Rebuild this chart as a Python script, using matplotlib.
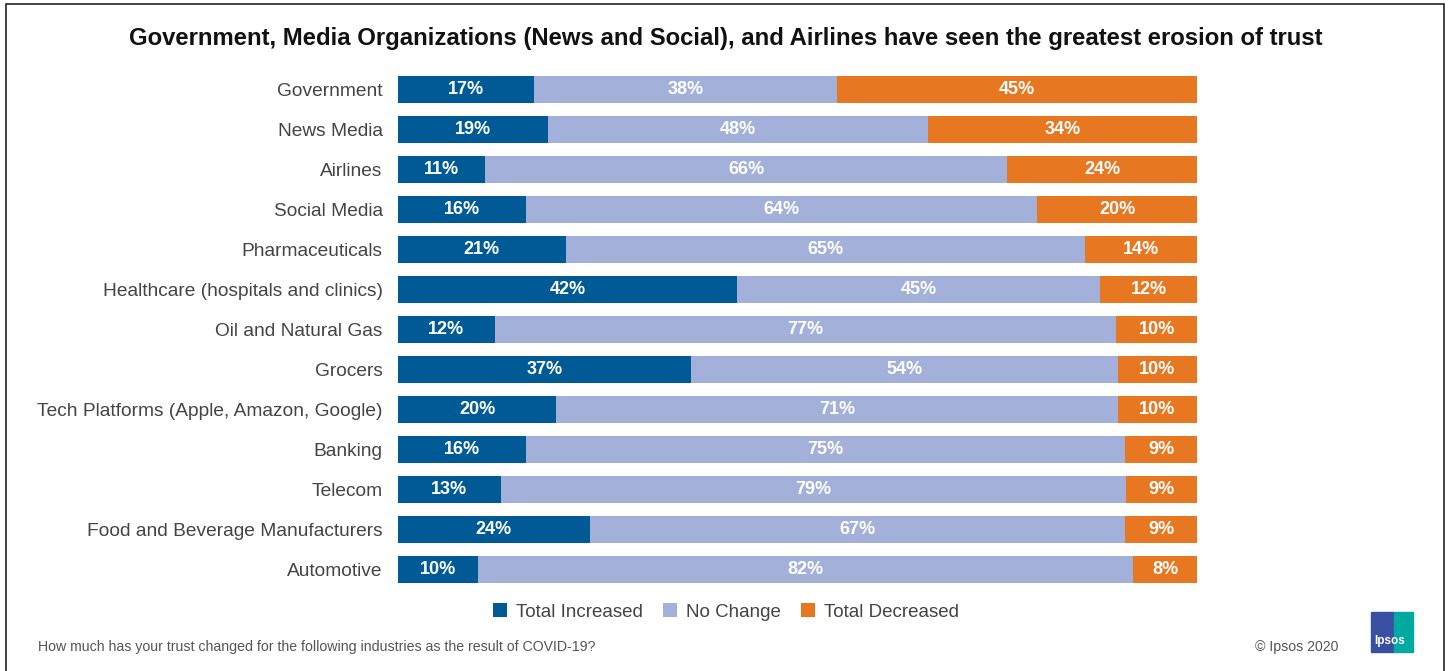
import numpy as np
import matplotlib.pyplot as plt
from matplotlib.patches import Rectangle

industries = [
    "Government", "News Media", "Airlines", "Social Media", "Pharmaceuticals",
    "Healthcare (hospitals and clinics)", "Oil and Natural Gas", "Grocers",
    "Tech Platforms (Apple, Amazon, Google)", "Banking", "Telecom",
    "Food and Beverage Manufacturers", "Automotive",
]
increased = [17, 19, 11, 16, 21, 42, 12, 37, 20, 16, 13, 24, 10]
no_change = [38, 48, 66, 64, 65, 45, 77, 54, 71, 75, 79, 67, 82]
decreased = [45, 34, 24, 20, 14, 12, 10, 10, 10, 9, 9, 9, 8]

series = [("Total Increased", increased, "#005a96"),
          ("No Change", no_change, "#a3b1da"),
          ("Total Decreased", decreased, "#e87722")]

plt.rcParams['font.family'] = ['Liberation Sans', 'DejaVu Sans']

W, H = 1449, 671
fig = plt.figure(figsize=(W / 100, H / 100), dpi=100)

# frame around the whole slide
fig.patches.append(Rectangle((6 / W, -0.05), (1444 - 6) / W, 1.05 - 4 / H,
                             transform=fig.transFigure, fill=False,
                             edgecolor="#222222", linewidth=1.2))

ax = fig.add_axes([398 / W, 1 - 589 / H, (1197 - 398) / W, 520 / H])

vals = np.array([increased, no_change, decreased], dtype=float)
totals = vals.sum(axis=0)
shares = vals / totals * 100  # each row spans the full bar
y = np.arange(len(industries))
left = np.zeros(len(industries))
for (name, raw, color), share in zip(series, shares):
    ax.barh(y, share, left=left, height=0.675, color=color, label=name)
    for yi, l, w, r in zip(y, left, share, raw):
        ax.text(l + w / 2, yi + 0.02, f"{r}%", ha="center", va="center",
                color="white", fontsize=13, fontweight="bold")
    left += share

ax.set_xlim(0, 100)
ax.set_ylim(len(industries) - 0.5, -0.5)
ax.set_yticks(y)
ax.set_yticklabels(industries, fontsize=13.8, color="#444444")
ax.tick_params(axis="y", length=0, pad=11)
ax.set_xticks([])
for s in ax.spines.values():
    s.set_visible(False)

fig.text(726 / W, 1 - 38 / H,
         "Government, Media Organizations (News and Social), and Airlines have seen the greatest erosion of trust",
         ha="center", va="center", fontsize=17.2, fontweight="bold",
         color="#111111")

handles, labels = ax.get_legend_handles_labels()
fig.legend(handles, labels, loc="center", bbox_to_anchor=(726 / W, 1 - 612 / H),
           ncol=3, frameon=False, fontsize=13.5, handlelength=0.75,
           handleheight=0.75, handletextpad=0.45, columnspacing=1.1,
           labelcolor="#444444")

fig.text(38 / W, 1 - 647 / H,
         "How much has your trust changed for the following industries as the result of COVID-19?",
         ha="left", va="center", fontsize=10.2, color="#555555")
fig.text(1338 / W, 1 - 647 / H, "\u00a9 Ipsos 2020", ha="right", va="center",
         fontsize=10.2, color="#555555")

# logo block
lx, ly, lw, lh = 1371 / W, 1 - 652 / H, 42 / W, 40 / H
fig.patches.append(Rectangle((lx, ly), lw * 0.55, lh, transform=fig.transFigure,
                             color="#3a4fa0"))
fig.patches.append(Rectangle((lx + lw * 0.55, ly), lw * 0.45, lh,
                             transform=fig.transFigure, color="#00aaa0"))
fig.text(lx + lw * 0.45, ly + lh * 0.27, "Ipsos", ha="center", va="center",
         fontsize=8.5, fontweight="bold", color="white")

fig.savefig("out.png", dpi=100, facecolor="white")
